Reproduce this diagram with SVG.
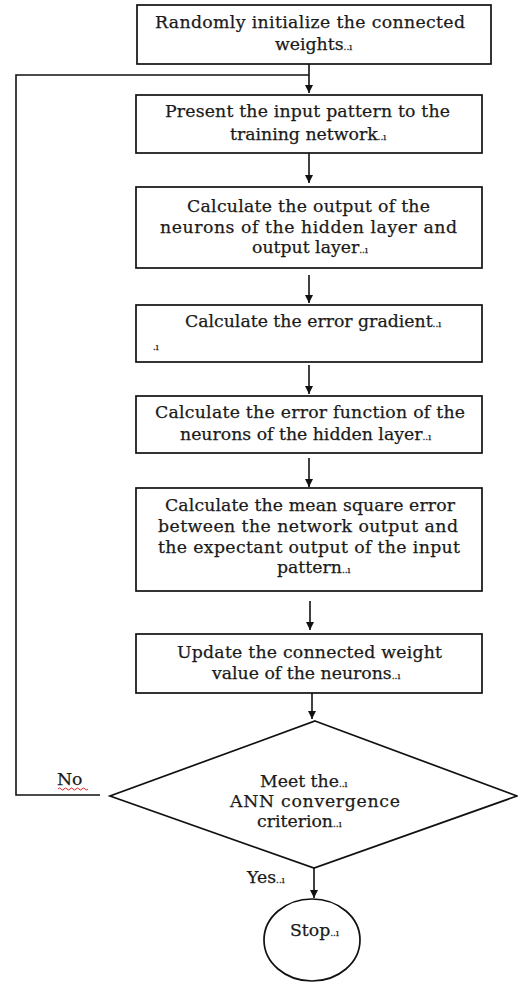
<svg xmlns="http://www.w3.org/2000/svg" width="518" height="982" viewBox="0 0 518 982">
<defs>
<style>
.box{fill:#fff;stroke:#111;stroke-width:1.7}
.ln{fill:none;stroke:#111;stroke-width:1.6}
.t{font-family:"DejaVu Serif","Liberation Serif",serif;font-size:17.3px;fill:#1a1a1a;stroke:#1a1a1a;stroke-width:0.25}
.m{font-size:9px}
</style>
<marker id="ah" viewBox="0 0 10 10" refX="10" refY="5" markerWidth="5" markerHeight="5" orient="auto" markerUnits="strokeWidth">
<path d="M0,0 L10,5 L0,10 z" fill="#111"/>
</marker>
</defs>
<rect width="518" height="982" fill="#fff"/>
<g id="connectors">
<line class="ln" x1="309" y1="64" x2="309" y2="93" marker-end="url(#ah)"/>
<line class="ln" x1="309" y1="153" x2="309" y2="183" marker-end="url(#ah)"/>
<line class="ln" x1="309" y1="275" x2="309" y2="303" marker-end="url(#ah)"/>
<line class="ln" x1="309" y1="365" x2="309" y2="394" marker-end="url(#ah)"/>
<line class="ln" x1="309" y1="458" x2="309" y2="487" marker-end="url(#ah)"/>
<line class="ln" x1="310" y1="601" x2="310" y2="630" marker-end="url(#ah)"/>
<line class="ln" x1="312" y1="693" x2="312" y2="719" marker-end="url(#ah)"/>
<line class="ln" x1="314" y1="868" x2="314" y2="898" marker-end="url(#ah)"/>
<path class="ln" d="M100,795 H16 V75 H309" stroke-width="2"/>
</g>
<g id="n1">
<rect class="box" x="137" y="5" width="354" height="59"/>
<text class="t" x="310" y="28" text-anchor="middle" textLength="310">Randomly initialize the connected</text>
<text class="t" x="275" y="50">weights<tspan class="m">..ı</tspan></text>
</g>
<g id="n2">
<rect class="box" x="136" y="95" width="346" height="58"/>
<text class="t" x="307.5" y="117" text-anchor="middle" textLength="285">Present the input pattern to the</text>
<text class="t" x="230" y="140">training network<tspan class="m">..ı</tspan></text>
</g>
<g id="n3">
<rect class="box" x="136" y="187" width="346" height="81"/>
<text class="t" x="308.5" y="212" text-anchor="middle" textLength="243">Calculate the output of the</text>
<text class="t" x="308.5" y="233" text-anchor="middle" textLength="297">neurons of the hidden layer and</text>
<text class="t" x="252" y="253">output layer<tspan class="m">..ı</tspan></text>
</g>
<g id="n4">
<rect class="box" x="136" y="305" width="346" height="57"/>
<text class="t" x="185" y="327">Calculate the error gradient<tspan class="m">..ı</tspan></text>
<text class="t m" x="153" y="350">.ı</text>
</g>
<g id="n5">
<rect class="box" x="136" y="396" width="346" height="57"/>
<text class="t" x="310" y="418" text-anchor="middle" textLength="310">Calculate the error function of the</text>
<text class="t" x="180" y="440">neurons of the hidden layer<tspan class="m">..ı</tspan></text>
</g>
<g id="n6">
<rect class="box" x="136" y="488" width="346" height="103"/>
<text class="t" x="310" y="511" text-anchor="middle" textLength="290">Calculate the mean square error</text>
<text class="t" x="308" y="532" text-anchor="middle" textLength="300">between the network output and</text>
<text class="t" x="309" y="553" text-anchor="middle" textLength="302">the expectant output of the input</text>
<text class="t" x="277" y="573">pattern<tspan class="m">..ı</tspan></text>
</g>
<g id="n7">
<rect class="box" x="136" y="634" width="346" height="59"/>
<text class="t" x="309.5" y="658" text-anchor="middle" textLength="265">Update the connected weight</text>
<text class="t" x="212" y="679">value of the neurons<tspan class="m">..ı</tspan></text>
</g>
<g id="n8">
<polygon class="box" points="315,721 517,796 314,868 110,796" stroke-width="1.3"/>
<text class="t" x="260" y="787">Meet the<tspan class="m">..ı</tspan></text>
<text class="t" x="315" y="807" text-anchor="middle" textLength="170">ANN convergence</text>
<text class="t" x="257" y="827">criterion<tspan class="m">..ı</tspan></text>
</g>
<g id="n9">
<ellipse class="box" cx="312" cy="940" rx="48" ry="41" stroke-width="1.3"/>
<text class="t" x="290" y="936">Stop<tspan class="m">..ı</tspan></text>
</g>
<g id="labels">
<text class="t" x="57" y="785">No</text>
<path d="M58,789 q1.5,-2 3,0 t3,0 t3,0 t3,0 t3,0 t3,0 t3,0 t3,0 t3,0 t3,0" fill="none" stroke="#d22" stroke-width="1"/>
<text class="t" x="247" y="883">Yes<tspan class="m">..ı</tspan></text>
</g>
</svg>
